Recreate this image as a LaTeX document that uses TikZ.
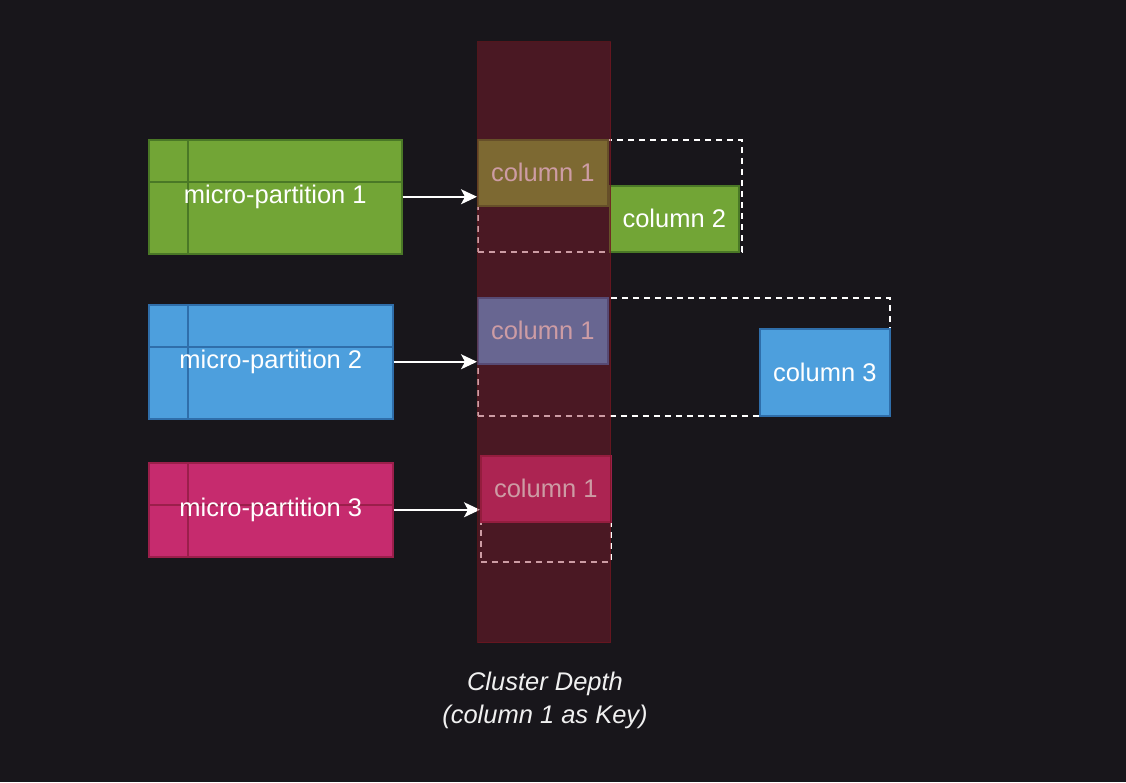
\documentclass[tikz,border=0pt]{standalone}
\usepackage{fontspec}
\setmainfont{Liberation Sans}
\usetikzlibrary{arrows.meta}
\definecolor{bg}{RGB}{24,22,27}
\definecolor{gfill}{RGB}{114,165,54}
\definecolor{gline}{RGB}{74,120,38}
\definecolor{bfill}{RGB}{77,159,221}
\definecolor{bline}{RGB}{47,110,170}
\definecolor{mfill}{RGB}{198,43,110}
\definecolor{mline}{RGB}{155,31,75}
\definecolor{redov}{RGB}{140,27,46}
\definecolor{redline}{RGB}{120,22,30}
\definecolor{lbl}{RGB}{240,240,240}
\begin{document}
\begin{tikzpicture}[x=1pt,y=-1pt,
  txt/.style={font=\fontsize{25.5}{29}\selectfont, text=white},
  box/.style={txt, draw=#1, line width=1.5pt, inner sep=0pt, anchor=north west},
  mp/.style n args={2}{box=#2, fill=#1, minimum width=253pt, minimum height=114pt,
    path picture={
      \draw[#2, line width=1.5pt] ([xshift=39pt]path picture bounding box.north west) -- ([xshift=39pt]path picture bounding box.south west);
      \draw[#2, line width=1.5pt] ([yshift=-42pt]path picture bounding box.north west) -- ([yshift=-42pt]path picture bounding box.north east);
    }},
  colbox/.style n args={2}{box=#2, fill=#1, minimum width=130pt, minimum height=66pt},
  dashbox/.style={draw=white, line width=1.5pt, dash pattern=on 6pt off 5pt, inner sep=0pt, anchor=north west},
  arr/.style={draw=white, line width=1.5pt, -{Stealth[length=16pt, width=15pt, inset=4pt]}},
]
\fill[bg] (0,0) rectangle (1126,782);
\useasboundingbox (0,0) rectangle (1126,782);

% dashed groups
\node[dashbox, minimum width=264pt, minimum height=112pt] (d1) at (477,139) {};
\node[dashbox, minimum width=412pt, minimum height=118pt] (d2) at (477,297) {};
\node[dashbox, minimum width=130pt, minimum height=106pt] (d3) at (480,455) {};

% column boxes
\node[colbox={gfill}{gline}] (c1a) at (477,139) {column 1};
\node[colbox={gfill}{gline}, minimum width=129pt] (c2) at (609,185) {column 2};
\node[colbox={bfill}{bline}] (c1b) at (477,297) {column 1};
\node[colbox={bfill}{bline}, minimum height=87pt] (c3) at (759,328) {column 3};
\node[colbox={mfill}{mline}] (c1c) at (480,455) {column 1};

% micro-partitions
\node[mp={gfill}{gline}] (mp1) at (148,139) {micro-partition 1};
\node[mp={bfill}{bline}, minimum width=244pt] (mp2) at (148,304) {micro-partition 2};
\node[mp={mfill}{mline}, minimum width=244pt, minimum height=94pt] (mp3) at (148,462) {micro-partition 3};

% arrows
\draw[arr] (mp1.east) -- (mp1.east -| c1a.west);
\draw[arr] (mp2.east) -- (mp2.east -| c1b.west);
\draw[arr] (mp3.east) -- (mp3.east -| c1c.west);

% cluster depth overlay
\node[anchor=north west, inner sep=0pt, minimum width=133pt, minimum height=601pt,
      fill=redov, fill opacity=0.43, draw=redline, draw opacity=0.6, line width=1pt] (depth) at (477,41) {};

\node[font=\fontsize{25.5}{33}\selectfont\itshape, text=lbl, align=center] (lab) at (545,700) {Cluster Depth\\(column 1 as Key)};
\end{tikzpicture}
\end{document}
